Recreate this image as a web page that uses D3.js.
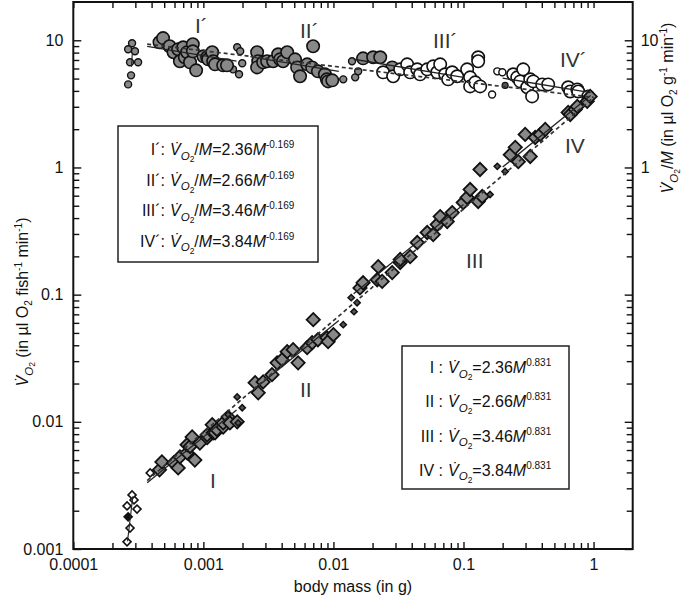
<!DOCTYPE html>
<meta charset="utf-8">
<style>
body { margin: 0; background: #fff; }
svg { font-family: "Liberation Sans", Arial, Helvetica, sans-serif; }
.axis path { display: none; }
.axis line { stroke: #111; stroke-width: 1.4; }
.axis text { font-size: 16px; fill: #111; font-family: "Liberation Sans", Arial, sans-serif; }
</style>
<svg width="685" height="602"></svg>
<script src="https://cdn.jsdelivr.net/npm/d3@7/dist/d3.min.js"></script>
<script>

// ---- data: [body mass (g), value] ----
// lower series: whole-fish rate VO2 (ul O2 fish-1 min-1)
var diamondsBig = [
  [0.00046,0.00419],[0.00048,0.00484],[0.00059,0.00475],[0.00064,0.00434],[0.00066,0.0053],
  [0.00075,0.0057],[0.00075,0.0066],[0.00079,0.0064],[0.00082,0.0076],[0.00086,0.0050],
  [0.00094,0.0068],[0.00107,0.0075],[0.00107,0.0079],[0.00117,0.0095],[0.00119,0.0082],
  [0.00123,0.0082],[0.00127,0.0087],[0.00142,0.0091],[0.00142,0.0098],[0.00155,0.0109],
  [0.0016,0.0098],[0.00182,0.0100],
  [0.0025,0.0203],[0.00264,0.0169],[0.00288,0.0206],[0.00337,0.0235],[0.00369,0.0291],
  [0.00403,0.0308],[0.00441,0.0356],[0.0049,0.0369],[0.00535,0.0291],[0.00628,0.0383],
  [0.00686,0.0419],[0.0070,0.0636],[0.0076,0.0442],[0.0089,0.0458],[0.0091,0.0427],[0.0100,0.0484],
  [0.016,0.113],[0.0169,0.124],[0.0217,0.131],[0.0221,0.166],[0.0237,0.127],[0.0283,0.149],
  [0.0326,0.179],[0.0326,0.189],[0.0389,0.199],[0.0441,0.257],[0.0526,0.308],[0.0585,0.297],
  [0.0628,0.356],[0.0662,0.411],[0.075,0.376],[0.0819,0.442],[0.0995,0.530],[0.1067,0.581],
  [0.1125,0.671],[0.1297,0.540],[0.134,0.964],[0.1393,0.591],
  [0.229,1.26],[0.25,1.44],[0.264,1.11],[0.298,1.82],[0.326,1.22],[0.356,1.72],[0.389,1.82],
  [0.425,1.99],[0.638,2.71],[0.662,2.61],[0.723,2.86],[0.75,3.02],[0.894,3.31],[0.942,3.62]
];
var diamondsSmall = [
  [0.00155,0.0114],[0.00182,0.0157],[0.00185,0.0098],[0.00199,0.0129],
  [0.0119,0.0581],[0.0137,0.0947],[0.0144,0.0735],[0.0152,0.0865],
  [0.160,0.613],[0.182,1.02],[0.209,0.93]
];
var diamondsOpen = [
  [0.000259,0.00114],[0.000273,0.00146],[0.000259,0.00218],[0.000309,0.00206],
  [0.000293,0.00243],[0.000283,0.00266],[0.00039,0.00396]
];
var diamondsBlack = [[0.000264,0.00179]];

// upper series: mass-specific rate VO2/M (ul O2 g-1 min-1)
var circlesGray = [
  [0.00046,9.64],[0.00049,10.4],[0.00055,8.98],[0.00059,8.05],[0.00064,8.50],[0.00066,6.84],
  [0.0007,8.81],[0.00072,7.35],[0.00075,8.05],[0.00079,6.71],[0.00083,9.31],[0.00083,8.19],
  [0.00088,5.80],[0.001,7.48],[0.00107,7.35],[0.00109,7.08],[0.00117,8.05],[0.00119,6.84],
  [0.00123,6.47],[0.00142,6.35],[0.00152,6.35],
  [0.00259,8.05],[0.00264,6.84],[0.00259,6.12],[0.00288,6.71],[0.00309,6.84],[0.00344,6.84],
  [0.00376,7.76],[0.00389,7.08],[0.0041,6.84],[0.00441,8.05],[0.00507,7.08],[0.00526,6.12],
  [0.00554,5.21],[0.00628,6.47],[0.00686,6.12],[0.00698,8.98],[0.0076,5.70],[0.0086,5.40],
  [0.0089,4.93],[0.0091,4.75],[0.0098,4.84],
  [0.0169,7.21],[0.0202,7.35],[0.0229,7.35],[0.0283,6.12]
];
var circlesGraySmall = [
  [0.000283,9.47],[0.000264,8.50],[0.000298,8.19],[0.000273,6.71],[0.000315,6.71],
  [0.000278,5.30],[0.000264,4.50],
  [0.00169,5.91],[0.00182,8.81],[0.00192,8.19],[0.00199,6.59],[0.00188,5.40],
  [0.0119,4.93],[0.0139,6.84],[0.0147,5.11],[0.0155,5.70]
];
var circlesOpen = [
  [0.0241,5.60],[0.0288,5.21],[0.0326,5.91],[0.0369,6.47],[0.0389,5.60],[0.0441,5.91],
  [0.0464,5.40],[0.0526,5.91],[0.0585,6.24],[0.0628,5.60],[0.0662,6.47],[0.0723,5.40],
  [0.0762,4.93],[0.0819,5.60],[0.0894,5.21],[0.1067,5.91],[0.1125,5.11],[0.1125,4.34],
  [0.1231,4.67],[0.1297,7.35],[0.1297,6.84],[0.1343,4.34],
  [0.241,5.40],[0.259,5.11],[0.273,4.75],[0.288,5.91],[0.309,4.27],[0.326,4.93],[0.337,3.62],
  [0.344,4.75],[0.403,4.50],[0.448,4.50],[0.638,4.27],[0.662,3.96],[0.75,4.11],[0.762,3.96],
  [0.91,3.62]
];
var circlesOpenSmall = [[0.166,3.75],[0.182,5.70],[0.199,5.60]];
var circlesDarkSmall = [[0.209,4.42]];

// fitted power laws: VO2 = a * M^b for stages I-IV
var stageNames = ["I", "II", "III", "IV"];
var stageCoef = [2.36, 2.66, 3.46, 3.84];
var stageExp = 0.831;
var stageMass = [[0.00037, 0.0018], [0.0023, 0.011], [0.0143, 0.1], [0.2, 0.95]];
var overallFit = [3.56, 0.878];
var overallMass = [0.00037, 1.0];

// axis tick labels
var xMajor = [0.0001, 0.001, 0.01, 0.1, 1];
var xTickLabels = ["0.0001", "0.001", "0.01", "0.1", "1"];
var yMajor = [0.001, 0.01, 0.1, 1, 10];
var yTickLabels = ["0.001", "0.01", "0.1", "1", "10"];
var yRightLabels = ["", "", "", "1", "10"];

var svg = d3.select("svg");
var plotLeft = 73.3, plotRight = 632.7, plotTop = 2, plotBottom = 549;

var x = d3.scaleLog().domain([1e-4, 2]).range([plotLeft, plotRight]);
var y = d3.scaleLog().domain([1e-3, 20]).range([plotBottom, plotTop]);

function isMajor(v) { var l = Math.log10(v); return Math.abs(l - Math.round(l)) < 1e-6; }
var xMinor = x.ticks().filter(function(v) { return !isMajor(v) && v < 2; });
var yMinor = y.ticks().filter(function(v) { return !isMajor(v) && v < 20; });

// axes (ticks point inward)
svg.append("g").attr("class", "axis").attr("transform", "translate(0," + plotBottom + ")")
  .call(d3.axisBottom(x).tickValues(xMajor).tickFormat(function(d, i) { return xTickLabels[i]; })
    .tickSize(-7).tickPadding(10));
svg.append("g").attr("class", "axis").attr("transform", "translate(0," + plotBottom + ")")
  .call(d3.axisBottom(x).tickValues(xMinor).tickFormat("").tickSize(-6));
svg.append("g").attr("class", "axis").attr("transform", "translate(0," + plotTop + ")")
  .call(d3.axisTop(x).tickValues(xMajor.concat(xMinor)).tickFormat("").tickSize(-6));

svg.append("g").attr("class", "axis").attr("transform", "translate(" + plotLeft + ",0)")
  .call(d3.axisLeft(y).tickValues(yMajor).tickFormat(function(d, i) { return yTickLabels[i]; })
    .tickSize(-8).tickPadding(10));
svg.append("g").attr("class", "axis").attr("transform", "translate(" + plotLeft + ",0)")
  .call(d3.axisLeft(y).tickValues(yMinor).tickFormat("").tickSize(-6));
svg.append("g").attr("class", "axis").attr("transform", "translate(" + plotRight + ",0)")
  .call(d3.axisRight(y).tickValues(yMajor).tickFormat(function(d, i) { return yRightLabels[i]; })
    .tickSize(-8).tickPadding(8));
svg.append("g").attr("class", "axis").attr("transform", "translate(" + plotRight + ",0)")
  .call(d3.axisRight(y).tickValues(yMinor).tickFormat("").tickSize(-6));

// points
var pts = svg.append("g");
function circles(data, r, fill, sw) {
  pts.selectAll(null).data(data).enter().append("circle")
    .attr("cx", function(d) { return x(d[0]); })
    .attr("cy", function(d) { return y(d[1]); })
    .attr("r", r).attr("fill", fill).attr("stroke", "#111").attr("stroke-width", sw);
}
function diamonds(data, area, fill, sw) {
  var sym = d3.symbol(d3.symbolSquare, area);
  pts.selectAll(null).data(data).enter().append("path")
    .attr("d", sym)
    .attr("transform", function(d) { return "translate(" + x(d[0]) + "," + y(d[1]) + ") rotate(45)"; })
    .attr("fill", fill).attr("stroke", "#111").attr("stroke-width", sw);
}
circles(circlesGraySmall, 3.5, "#888", 1.4);
circles(circlesOpenSmall, 3.5, "#fff", 1.4);
circles(circlesDarkSmall, 3, "#555", 1.2);
circles(circlesGray, 6.2, "#888", 1.6);
circles(circlesOpen, 6.2, "#fff", 1.6);

diamonds(diamondsOpen, 32, "#fff", 1.6);
diamonds(diamondsBlack, 32, "#111", 1.6);
diamonds(diamondsBig, 88, "#888", 1.8);
diamonds(diamondsSmall, 20, "#555", 1.5);

// fitted lines
var line = d3.line().x(function(d) { return x(d[0]); }).y(function(d) { return y(d[1]); });
var fits = svg.append("g").attr("fill", "none");
function powerSeg(a, b, m0, m1) { return [[m0, a * Math.pow(m0, b)], [m1, a * Math.pow(m1, b)]]; }

stageCoef.forEach(function(a, i) {
  var r = stageMass[i];
  fits.append("path").attr("d", line(powerSeg(a, stageExp, r[0], r[1])))
    .attr("stroke", "#222").attr("stroke-width", 1.3);
  fits.append("path").attr("d", line(powerSeg(a, stageExp - 1, r[0], r[1])))
    .attr("stroke", "#222").attr("stroke-width", 1.3);
});
fits.append("path").attr("d", line(powerSeg(overallFit[0], overallFit[1], overallMass[0], overallMass[1])))
  .attr("stroke", "#333").attr("stroke-width", 1.7).attr("stroke-dasharray", "4,3");
fits.append("path").attr("d", line(powerSeg(overallFit[0], overallFit[1] - 1, overallMass[0], overallMass[1])))
  .attr("stroke", "#333").attr("stroke-width", 1.7).attr("stroke-dasharray", "4,3");

// larval points: fit log M against log V and draw the short steep line
function larvalLine(data, v0, v1) {
  var lx = data.map(function(d) { return Math.log10(d[0]); });
  var ly = data.map(function(d) { return Math.log10(d[1]); });
  var mx = d3.mean(lx), my = d3.mean(ly);
  var sxy = d3.sum(lx, function(v, i) { return (v - mx) * (ly[i] - my); });
  var syy = d3.sum(ly, function(v) { return (v - my) * (v - my); });
  var k = sxy / syy;
  function m(v) { return Math.pow(10, mx + k * (Math.log10(v) - my)); }
  return [[m(v0), v0], [m(v1), v1]];
}
var larvaV = diamondsOpen.slice(0, 6).concat(diamondsBlack);
fits.append("path").attr("d", line(larvalLine(larvaV, 0.00115, 0.0026)))
  .attr("stroke", "#222").attr("stroke-width", 1.1);
fits.append("path").attr("d", line(larvalLine(circlesGraySmall.slice(0, 7), 6.2, 8.0)))
  .attr("stroke", "#222").attr("stroke-width", 1.1);

// frame
svg.append("rect").attr("x", plotLeft).attr("y", plotTop)
  .attr("width", plotRight - plotLeft).attr("height", plotBottom - plotTop)
  .attr("fill", "none").attr("stroke", "#111").attr("stroke-width", 2);

// rich text helpers
function addParts(text, parts) {
  parts.forEach(function(p) {
    var ts = text.append("tspan").text(p.t);
    if (p.i) ts.attr("font-style", "italic");
    if (p.s) ts.attr("font-size", p.s);
    if (p.dy) ts.attr("dy", p.dy);
  });
  return text;
}
function vdot() {
  return [{t: "V\u0307", i: true}, {t: "O", i: true, s: 11.5, dy: 4.5}, {t: "2", s: 8.5, dy: 2.5}];
}

// stage labels
var labels = svg.append("g").attr("font-size", 21).attr("fill", "#333");
var primePos = [[195, 33], [300, 38], [433, 48], [560, 67]];
var plainPos = [[210, 488], [300, 397], [466, 268], [565, 153]];
stageNames.forEach(function(s, i) {
  labels.append("text").attr("x", primePos[i][0]).attr("y", primePos[i][1]).text(s + "\u00B4");
  labels.append("text").attr("x", plainPos[i][0]).attr("y", plainPos[i][1]).text(s);
});

// equation boxes
var box1 = svg.append("g").attr("font-size", 16).attr("fill", "#111");
box1.append("rect").attr("x", 118).attr("y", 126).attr("width", 200).attr("height", 136)
  .attr("fill", "#fff").attr("stroke", "#222").attr("stroke-width", 1.5);
stageNames.forEach(function(s, i) {
  var yy = 155 + i * 30.5;
  box1.append("text").attr("x", 165).attr("y", yy).attr("text-anchor", "end").text(s + "\u00B4:");
  addParts(box1.append("text").attr("x", 170).attr("y", yy), vdot().concat([
    {t: "/", dy: -7}, {t: "M", i: true}, {t: "=" + stageCoef[i].toFixed(2)}, {t: "M", i: true},
    {t: "-" + (1 - stageExp).toFixed(3), s: 10, dy: -7}
  ]));
});

var box2 = svg.append("g").attr("font-size", 16).attr("fill", "#111");
box2.append("rect").attr("x", 402).attr("y", 346).attr("width", 167).attr("height", 143)
  .attr("fill", "#fff").attr("stroke", "#222").attr("stroke-width", 1.5);
stageNames.forEach(function(s, i) {
  var yy = 373 + i * 34.3;
  box2.append("text").attr("x", 443).attr("y", yy).attr("text-anchor", "end").text(s + " :");
  addParts(box2.append("text").attr("x", 448).attr("y", yy), vdot().concat([
    {t: "=" + stageCoef[i].toFixed(2), dy: -7}, {t: "M", i: true},
    {t: stageExp.toFixed(3), s: 10, dy: -7}
  ]));
});

// axis titles
svg.append("text").attr("x", (plotLeft + plotRight) / 2).attr("y", 592).attr("text-anchor", "middle")
  .attr("font-size", 16).attr("fill", "#111").text("body mass (in g)");

addParts(svg.append("text").attr("transform", "translate(28,302) rotate(-90)")
  .attr("text-anchor", "middle").attr("font-size", 16).attr("fill", "#111"), vdot().concat([
  {t: " (in \u00B5l O", dy: -7}, {t: "2", s: 10, dy: 4}, {t: " fish", dy: -4},
  {t: "-1", s: 10, dy: -6}, {t: " min", dy: 6}, {t: "-1", s: 10, dy: -6}, {t: ")", dy: 6}
]));

addParts(svg.append("text").attr("transform", "translate(673,108) rotate(-90)")
  .attr("text-anchor", "middle").attr("font-size", 16).attr("fill", "#111"), vdot().concat([
  {t: "/", dy: -7}, {t: "M", i: true}, {t: " (in \u00B5l O"}, {t: "2", s: 10, dy: 4}, {t: " g", dy: -4},
  {t: "-1", s: 10, dy: -6}, {t: " min", dy: 6}, {t: "-1", s: 10, dy: -6}, {t: ")", dy: 6}
]));
</script>
